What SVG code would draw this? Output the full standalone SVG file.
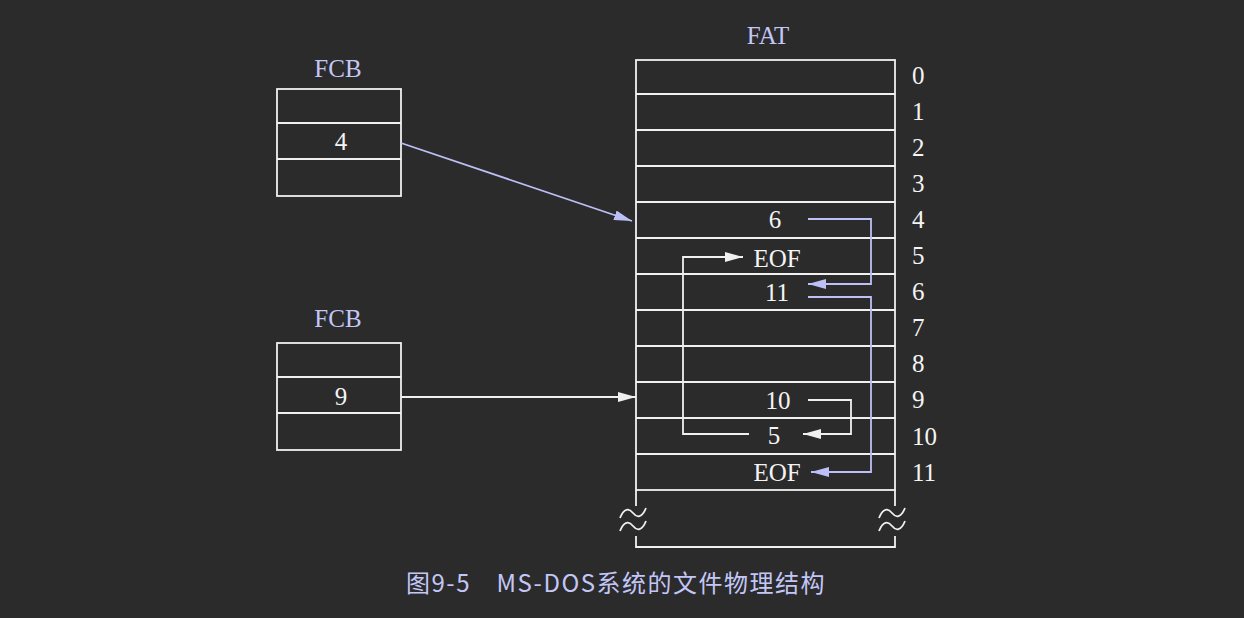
<svg xmlns="http://www.w3.org/2000/svg" width="1244" height="618" viewBox="0 0 1244 618">
<defs>
<style>
.ln{stroke:#f0f0f0;stroke-width:1.8;fill:none}
.bl{stroke:#bcc0f6;stroke-width:1.8;fill:none}
.wl{stroke:#f0f0f0;stroke-width:1.8;fill:none}
.t{font-family:"Liberation Serif","Times New Roman",serif;font-size:25px;fill:#f4f4f4}
.h{font-family:"Liberation Serif","Times New Roman",serif;font-size:25px;fill:#c3c7f7}
.c{font-family:"Noto Sans CJK SC","Noto Sans",sans-serif;font-size:24px;fill:#c3c7f7;letter-spacing:1.5px}
</style>
<marker id="ab" markerUnits="userSpaceOnUse" markerWidth="18" markerHeight="10" refX="18" refY="5" orient="auto"><path d="M0,0 L18,5 L0,10 z" fill="#bcc0f6"/></marker>
<marker id="aw" markerUnits="userSpaceOnUse" markerWidth="18" markerHeight="10" refX="18" refY="5" orient="auto"><path d="M0,0 L18,5 L0,10 z" fill="#f0f0f0"/></marker>
<path id="tl" d="M-13,5 C-9,-5 -4,-5 0,0 S9,5 13,-5"/>
</defs>
<rect width="1244" height="618" fill="#2b2b2b"/>

<g id="fcb1">
<text class="h" x="338" y="77" text-anchor="middle">FCB</text>
<rect class="ln" x="277" y="89" width="124" height="107"/>
<line class="ln" x1="277" y1="123" x2="401" y2="123"/>
<line class="ln" x1="277" y1="159" x2="401" y2="159"/>
<text class="t" x="341" y="150" text-anchor="middle">4</text>
</g>

<g id="fcb2">
<text class="h" x="338" y="327" text-anchor="middle">FCB</text>
<rect class="ln" x="277" y="343" width="124" height="107"/>
<line class="ln" x1="277" y1="377" x2="401" y2="377"/>
<line class="ln" x1="277" y1="413" x2="401" y2="413"/>
<text class="t" x="341" y="405" text-anchor="middle">9</text>
</g>

<g id="fat">
<text class="h" x="768" y="44" text-anchor="middle">FAT</text>
<rect class="ln" x="636" y="60" width="259" height="430"/>
<line class="ln" x1="636" y1="94" x2="895" y2="94"/>
<line class="ln" x1="636" y1="130" x2="895" y2="130"/>
<line class="ln" x1="636" y1="166" x2="895" y2="166"/>
<line class="ln" x1="636" y1="202" x2="895" y2="202"/>
<line class="ln" x1="636" y1="238" x2="895" y2="238"/>
<line class="ln" x1="636" y1="274" x2="895" y2="274"/>
<line class="ln" x1="636" y1="310" x2="895" y2="310"/>
<line class="ln" x1="636" y1="346" x2="895" y2="346"/>
<line class="ln" x1="636" y1="382" x2="895" y2="382"/>
<line class="ln" x1="636" y1="418" x2="895" y2="418"/>
<line class="ln" x1="636" y1="454" x2="895" y2="454"/>
<path class="ln" d="M636,490 V506 M636,536 V547 H895 V536 M895,506 V490"/>
<use href="#tl" class="ln" x="633" y="513"/>
<use href="#tl" class="ln" x="633" y="526"/>
<use href="#tl" class="ln" x="892" y="513"/>
<use href="#tl" class="ln" x="892" y="526"/>
<g class="t">
<text x="912" y="84">0</text>
<text x="912" y="120">1</text>
<text x="912" y="156">2</text>
<text x="912" y="192">3</text>
<text x="912" y="228">4</text>
<text x="912" y="264">5</text>
<text x="912" y="300">6</text>
<text x="912" y="336">7</text>
<text x="912" y="372">8</text>
<text x="912" y="408">9</text>
<text x="912" y="445">10</text>
<text x="912" y="481">11</text>
</g>
<g class="t" text-anchor="middle">
<text x="775" y="228">6</text>
<text x="777" y="267">EOF</text>
<text x="777" y="301">11</text>
<text x="778" y="409">10</text>
<text x="774" y="444">5</text>
<text x="777" y="481">EOF</text>
</g>
</g>

<g id="connectors">
<line class="bl" x1="401" y1="143" x2="632" y2="221" marker-end="url(#ab)"/>
<line class="wl" x1="401" y1="397" x2="636" y2="397" marker-end="url(#aw)"/>
<polyline class="bl" points="808,219 871,219 871,284 808,284" marker-end="url(#ab)"/>
<polyline class="bl" points="808,297 871,297 871,472 811,472" marker-end="url(#ab)"/>
<polyline class="wl" points="808,400 851,400 851,434 803,434" marker-end="url(#aw)"/>
<polyline class="wl" points="749,434 683,434 683,257 743,257" marker-end="url(#aw)"/>
</g>

<text class="c" x="406" y="592">图9-5　MS-DOS系统的文件物理结构</text>
</svg>
